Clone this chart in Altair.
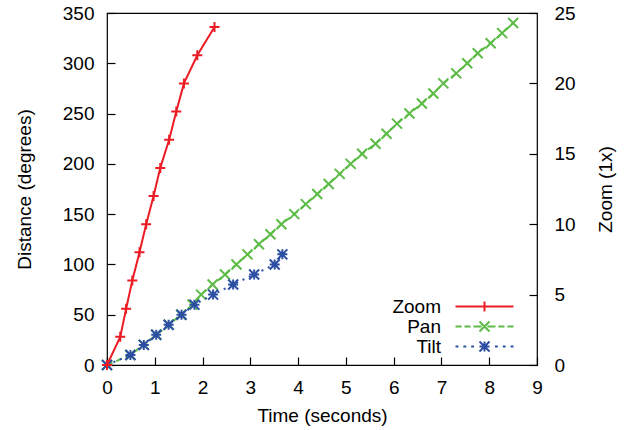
import altair as alt
import pandas as pd

FONT = "Liberation Sans"

series_names = ["Zoom", "Pan", "Tilt"]
series_colors = ["#ec1c24", "#5cbb46", "#2d4fa3"]

# Zoom (right axis, zoom level) vs time
zoom_time = [0, 0.277, 0.40, 0.53, 0.68, 0.82, 0.975, 1.115, 1.30, 1.45, 1.61, 1.89, 2.25]
zoom_level = [0, 2, 4, 6, 8, 10, 12, 14, 16, 18, 20, 22, 24]

# Pan (left axis, degrees) vs time
pan_time = [0, 0.49, 0.77, 1.03, 1.29, 1.55, 1.79, 1.97, 2.21, 2.47, 2.71, 2.94, 3.18,
            3.42, 3.65, 3.92, 4.16, 4.40, 4.64, 4.87, 5.10, 5.34, 5.62, 5.85, 6.07,
            6.33, 6.59, 6.83, 7.04, 7.31, 7.54, 7.76, 8.03, 8.27, 8.50]
pan_distance = [0, 10, 20, 30, 40, 50, 60, 70, 80, 90, 100, 110, 120, 130, 140, 150,
                160, 170, 180, 190, 200, 210, 220, 230, 240, 250, 260, 270, 280, 290,
                300, 310, 320, 330, 340]

# Tilt (left axis, degrees) vs time
tilt_time = [0, 0.49, 0.77, 1.03, 1.29, 1.56, 1.83, 2.22, 2.64, 3.08, 3.51, 3.67]
tilt_distance = [0, 10, 20, 30, 40, 50, 60, 70, 80, 90, 100, 110]

x_ticks = [0, 1, 2, 3, 4, 5, 6, 7, 8, 9]
left_ticks = [0, 50, 100, 150, 200, 250, 300, 350]
right_ticks = [0, 5, 10, 15, 20, 25]

zoom_df = pd.DataFrame({"time": zoom_time, "value": zoom_level, "series": series_names[0]})
pan_df = pd.DataFrame({"time": pan_time, "value": pan_distance, "series": series_names[1]})
tilt_df = pd.DataFrame({"time": tilt_time, "value": tilt_distance, "series": series_names[2]})
legend_df = pd.DataFrame({"series": series_names})

PLUS = "M-1,0H1M0,-1V1"
CROSS = "M-1,-1L1,1M-1,1L1,-1"
STAR = "M-1,0H1M0,-1V1M-1,-1L1,1M-1,1L1,-1"

# legend glyphs: line sample (about 58 px) with the series marker in the middle
LEG_ZOOM = "M-5.8,0H5.8M0,-1V1"
LEG_PAN = ("M-5.8,0H-4.58M-4,0H-2.78M-2.2,0H-0.58M0.58,0H2.2M2.78,0H4M4.58,0H5.8"
           "M-1,-1L1,1M-1,1L1,-1")
LEG_TILT = ("M-5.8,0H-5.22M-4.23,0H-3.65M-2.67,0H-2.09M2.09,0H2.67M3.65,0H4.23M5.22,0H5.8"
            "M-1,0H1M0,-1V1M-1,-1L1,1M-1,1L1,-1")
legend_glyphs = [LEG_ZOOM, LEG_PAN, LEG_TILT]

legend = alt.Legend(
    title="",
    orient="none",
    legendX=368,
    legendY=284,
    padding=0,
    rowPadding=alt.ExprRef("-1"),
    labelFont=FONT,
    labelFontSize=19,
    labelColor="black",
    labelAlign="right",
    labelOffset=alt.ExprRef("-53"),
    labelLimit=0,
    symbolSize=100,
    symbolStrokeWidth=2,
)

color_scale = alt.Scale(domain=series_names, range=series_colors)
shape_scale = alt.Scale(domain=series_names, range=legend_glyphs)


def main_axis(values, title, orient, label_pad, title_pad, **kw):
    # offset -8 with 8 px ticks puts the ticks inside the frame
    return alt.Axis(
        values=values, title=title, orient=orient, ticks=True, tickSize=8,
        tickWidth=1.2, tickColor="black", offset=-8,
        domain=False, grid=False, labelFont=FONT, labelFontSize=19,
        labelColor="black", titleFont=FONT, titleFontSize=19,
        titleFontWeight="normal", titleColor="black", labelPadding=label_pad,
        titlePadding=title_pad, labelFlush=False, labelOverlap=False, **kw
    )


xscale = alt.Scale(domain=[0, 9], nice=False, zero=False)
left_scale = alt.Scale(domain=[0, 350], nice=False)
right_scale = alt.Scale(domain=[0, 25], nice=False)

x_main = alt.X("time:Q", scale=xscale,
               axis=main_axis(x_ticks, "Time (seconds)", "bottom", 13, 9))
yl_main = alt.Y("value:Q", scale=left_scale,
                axis=main_axis(left_ticks, "Distance (degrees)", "left", 13, 28))
yr_main = alt.Y("value:Q", scale=right_scale,
                axis=main_axis(right_ticks, "Zoom (1x)", "right", 17, 21,
                               titleAngle=270, titleBaseline="top"))

pan_line = alt.Chart(pan_df).mark_line(
    strokeWidth=2, strokeDash=[6, 4], color=series_colors[1]).encode(x=x_main, y=yl_main)
pan_pts = alt.Chart(pan_df).mark_point(
    shape=CROSS, size=100, filled=False, strokeWidth=2, opacity=1,
    color=series_colors[1]).encode(x=x_main, y=yl_main)
tilt_line = alt.Chart(tilt_df).mark_line(
    strokeWidth=2, strokeDash=[2, 5], color=series_colors[2]).encode(x=x_main, y=yl_main)
tilt_pts = alt.Chart(tilt_df).mark_point(
    shape=STAR, size=100, filled=False, strokeWidth=2, opacity=1,
    color=series_colors[2]).encode(x=x_main, y=yl_main)

left = alt.layer(pan_line, pan_pts, tilt_line, tilt_pts)

zoom_line = alt.Chart(zoom_df).mark_line(
    strokeWidth=2, color=series_colors[0]).encode(x=x_main, y=yr_main)
zoom_pts = alt.Chart(zoom_df).mark_point(
    shape=PLUS, size=100, filled=False, strokeWidth=2, opacity=1,
    color=series_colors[0]).encode(x=x_main, y=yr_main)

right = alt.layer(zoom_line, zoom_pts)

# legend-only layer (no rows drawn; legend entries come from the explicit scale domains)
legend_layer = alt.Chart(legend_df).transform_filter("false").mark_point(
    filled=False, strokeWidth=2, opacity=1
).encode(
    color=alt.Color("series:N", scale=color_scale, legend=legend),
    shape=alt.Shape("series:N", scale=shape_scale, legend=legend),
)

chart = alt.layer(left, right, legend_layer).resolve_scale(y="independent").properties(
    width=430,
    height=352,
    autosize=alt.AutoSizeParams(type="none"),
    padding={"left": 107, "top": 13, "right": 95, "bottom": 65},
    background="white",
).configure_view(stroke="black", strokeWidth=1.2)

chart.save("out.html", embed_options={"renderer": "svg", "actions": False})
